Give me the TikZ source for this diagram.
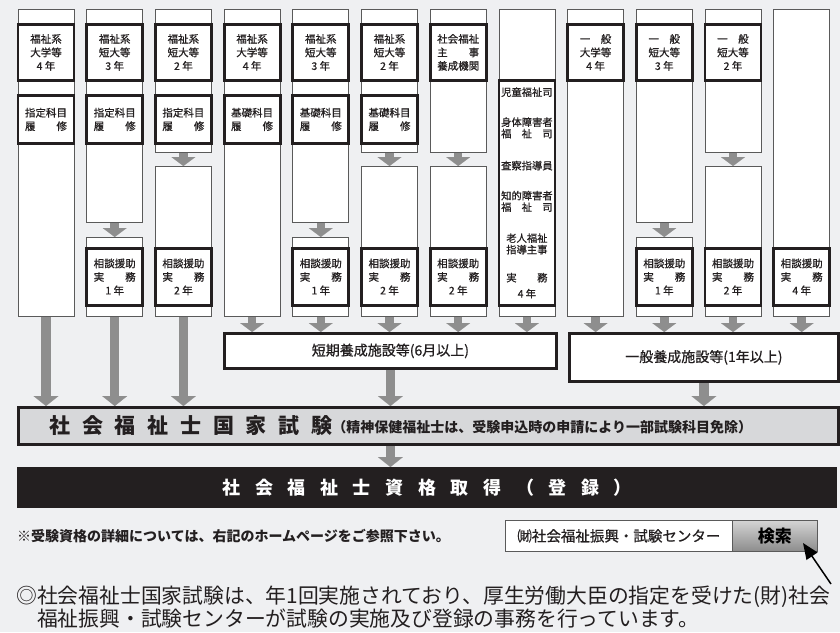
\documentclass[tikz,border=0pt]{standalone}
\usepackage{fontspec}
\setmainfont{Noto Sans CJK JP}
\newfontfamily\jpm{Noto Sans CJK JP}[FakeBold=0.7]
\usetikzlibrary{arrows.meta}
\definecolor{bg}{HTML}{EFF0F2}
\definecolor{thinc}{HTML}{5A5A5A}
\definecolor{inkc}{HTML}{231F20}
\definecolor{arrc}{HTML}{8E8E8E}
\definecolor{examc}{HTML}{D7D8DA}
\definecolor{btnlight}{HTML}{D4D4D4}
\definecolor{btndark}{HTML}{8C8C8C}
\newcommand\colfont{\jpm\fontsize{10.5}{13.5}\selectfont}
\begin{document}
\begin{tikzpicture}[x=1pt,y=-1pt,
 thinbox/.style={draw=thinc, fill=white, line width=0.8pt, inner sep=0pt, minimum width=56pt, anchor=north},
 thickbox/.style={draw=inkc, fill=white, line width=2.8pt, inner sep=0pt, minimum width=56pt, anchor=north, font=\colfont, align=center, text=inkc},
 garrow/.style={draw=arrc, line width=9.5pt, -{Triangle[width=25pt,length=10pt,line width=0.1pt]}},
 sarrow/.style={draw=arrc, line width=8.5pt, -{Triangle[width=24pt,length=9pt,line width=0.1pt]}},
 bigbox/.style={draw=inkc, fill=white, line width=2.8pt, inner sep=0pt, anchor=north west, text=inkc, font=\jpm\fontsize{14}{16}\selectfont}
]
\fill[bg] (0,0) rectangle (840,632);

% column 1
\node[thinbox, minimum height=307pt] (c1) at (46,9) {};
\node[thickbox, minimum height=56pt] (c1a) at (46,23) {福祉系\\大学等\\4 年};
\node[thickbox, minimum height=48pt] (c1b) at (46,94) {指定科目\\履　　修};
% column 2
\node[thinbox, minimum height=213pt] (c2u) at (114.7,9) {};
\node[thickbox, minimum height=56pt] (c2a) at (114.7,23) {福祉系\\短大等\\3 年};
\node[thickbox, minimum height=48pt] (c2b) at (114.7,94) {指定科目\\履　　修};
\node[thinbox, minimum height=79pt] (c2l) at (114.7,237) {};
\node[thickbox, minimum height=57pt] (c2c) at (114.7,247) {相談援助\\実　　務\\1 年};
% column 3
\node[thinbox, minimum height=143pt] (c3u) at (183.4,9) {};
\node[thickbox, minimum height=56pt] (c3a) at (183.4,23) {福祉系\\短大等\\2 年};
\node[thickbox, minimum height=48pt] (c3b) at (183.4,94) {指定科目\\履　　修};
\node[thinbox, minimum height=150pt] (c3l) at (183.4,166) {};
\node[thickbox, minimum height=57pt] (c3c) at (183.4,247) {相談援助\\実　　務\\2 年};
% column 4
\node[thinbox, minimum height=307pt] (c4) at (252.1,9) {};
\node[thickbox, minimum height=56pt] (c4a) at (252.1,23) {福祉系\\大学等\\4 年};
\node[thickbox, minimum height=48pt] (c4b) at (252.1,94) {基礎科目\\履　　修};
% column 5
\node[thinbox, minimum height=213pt] (c5u) at (320.8,9) {};
\node[thickbox, minimum height=56pt] (c5a) at (320.8,23) {福祉系\\短大等\\3 年};
\node[thickbox, minimum height=48pt] (c5b) at (320.8,94) {基礎科目\\履　　修};
\node[thinbox, minimum height=79pt] (c5l) at (320.8,237) {};
\node[thickbox, minimum height=57pt] (c5c) at (320.8,247) {相談援助\\実　　務\\1 年};
% column 6
\node[thinbox, minimum height=143pt] (c6u) at (389.5,9) {};
\node[thickbox, minimum height=56pt] (c6a) at (389.5,23) {福祉系\\短大等\\2 年};
\node[thickbox, minimum height=48pt] (c6b) at (389.5,94) {基礎科目\\履　　修};
\node[thinbox, minimum height=150pt] (c6l) at (389.5,166) {};
\node[thickbox, minimum height=57pt] (c6c) at (389.5,247) {相談援助\\実　　務\\2 年};
% column 7
\node[thinbox, minimum height=143pt] (c7u) at (458.2,9) {};
\node[thickbox, minimum height=56pt] (c7a) at (458.2,23) {社会福祉\\主　　事\\養成機関};
\node[thinbox, minimum height=150pt] (c7l) at (458.2,166) {};
\node[thickbox, minimum height=57pt] (c7c) at (458.2,247) {相談援助\\実　　務\\2 年};
% column 8
\node[thinbox, minimum height=307pt] (c8) at (526.9,9) {};
\node[thickbox, minimum height=225pt, font=\jpm\fontsize{10.3}{11.5}\selectfont] (c8a) at (526.9,79) {児童福祉司\\[18.5pt]身体障害者\\福　祉　司\\[20.5pt]査察指導員\\[18.5pt]知的障害者\\福　祉　司\\[19.5pt]老人福祉\\指導主事\\[16.5pt]実　　務\\[4.5pt]4 年};
% column 9
\node[thinbox, minimum height=307pt] (c9) at (595.6,9) {};
\node[thickbox, minimum height=56pt] (c9a) at (595.6,23) {一　般\\大学等\\4 年};
% column 10
\node[thinbox, minimum height=213pt] (c10u) at (664.3,9) {};
\node[thickbox, minimum height=56pt] (c10a) at (664.3,23) {一　般\\短大等\\3 年};
\node[thinbox, minimum height=79pt] (c10l) at (664.3,237) {};
\node[thickbox, minimum height=57pt] (c10c) at (664.3,247) {相談援助\\実　　務\\1 年};
% column 11
\node[thinbox, minimum height=143pt] (c11u) at (733,9) {};
\node[thickbox, minimum height=56pt] (c11a) at (733,23) {一　般\\短大等\\2 年};
\node[thinbox, minimum height=150pt] (c11l) at (733,166) {};
\node[thickbox, minimum height=57pt] (c11c) at (733,247) {相談援助\\実　　務\\2 年};
% column 12
\node[thinbox, minimum height=307pt] (c12) at (801.7,9) {};
\node[thickbox, minimum height=57pt] (c12c) at (801.7,247) {相談援助\\実　　務\\4 年};

% small arrows between stacked boxes
\foreach \u/\l in {c2u/c2l, c3u/c3l, c5u/c5l, c6u/c6l, c7u/c7l, c10u/c10l, c11u/c11l}
  \draw[sarrow] (\u.south) -- (\l.north);

% training boxes
\node[bigbox, minimum width=332pt, minimum height=35pt] (tan) at (223,332) {短期養成施設等(6月以上)};
\node[bigbox, minimum width=269pt, minimum height=48pt] (ippan) at (568,332) {一般養成施設等(1年以上)};

% exam box
\node[draw=inkc, fill=examc, line width=2.8pt, minimum width=820pt, minimum height=37pt, anchor=north west, inner ysep=0pt, inner xsep=31pt, text width=758pt, align=left, text=inkc] (exam) at (17,406)
 {{\bfseries\fontsize{21}{24}\selectfont 社\kern11.75pt 会\kern11.75pt 福\kern11.75pt 祉\kern11.75pt 士\kern11.75pt 国\kern11.75pt 家\kern11.75pt 試\kern11.75pt 験}\raisebox{1.2pt}{\bfseries\fontsize{14}{16}\selectfont （精神保健福祉士は、受験申込時の申請により一部試験科目免除）}};

% registration box
\node[fill=inkc, minimum width=820pt, minimum height=41pt, anchor=north west, inner sep=0pt, text=white, font=\bfseries\fontsize{18}{20}\selectfont] (reg) at (17,467)
 {社\kern14.6pt 会\kern14.6pt 福\kern14.6pt 祉\kern14.6pt 士\kern14.6pt 資\kern14.6pt 格\kern14.6pt 取\kern14.6pt 得\kern14.6pt （\kern14.6pt 登\kern14.6pt 録\kern14.6pt ）};

% arrows to exam and training
\foreach \c in {c1, c2l, c3l}
  \draw[garrow] (\c.south) -- (\c.south |- exam.north);
\foreach \c in {c4, c5l, c6l, c7l, c8}
  \draw[sarrow] (\c.south) -- (\c.south |- tan.north);
\foreach \c in {c9, c10l, c11l, c12}
  \draw[sarrow] (\c.south) -- (\c.south |- ippan.north);
\draw[garrow] (tan.south) -- (tan.south |- exam.north);
\draw[garrow] (ippan.south) -- (ippan.south |- exam.north);
\draw[garrow] (exam.south -| tan.south) -- (reg.north -| tan.south);

% note and search box
\node[anchor=west, inner sep=0pt, text=inkc, font=\bfseries\fontsize{14}{16}\selectfont] (note) at (17,536) {※受験資格の詳細については、右記のホームページをご参照下さい。};
\node[draw=thinc, fill=white, line width=0.8pt, minimum width=227pt, minimum height=31pt, anchor=north west, inner sep=0pt, text=inkc, font=\jpm\fontsize{14.5}{16}\selectfont] (field) at (505,520) {㈶社会福祉振興・試験センター};
\node[draw=thinc, line width=0.8pt, top color=btnlight, bottom color=btndark, minimum width=85pt, minimum height=31pt, anchor=north west, inner sep=0pt, text=black, font=\bfseries\fontsize{17}{19}\selectfont] (btn) at (732,520) {検索};

\coordinate (atail) at (831,584);
\coordinate (ahead) at (803,543);
\draw[line width=1.5pt, draw=black, -{Triangle[length=16pt,width=13pt]}] (atail) -- (ahead);

% paragraph
\node[anchor=north west, align=left, inner sep=0pt, text=inkc, font=\fontsize{20.8}{23}\selectfont] (para) at (16,585.5)
 {◎社会福祉士国家試験は、年1回実施されており、厚生労働大臣の指定を受けた(財)社会\\\hspace*{1em}福祉振興・試験センターが試験の実施及び登録の事務を行っています。};
\end{tikzpicture}
\end{document}
